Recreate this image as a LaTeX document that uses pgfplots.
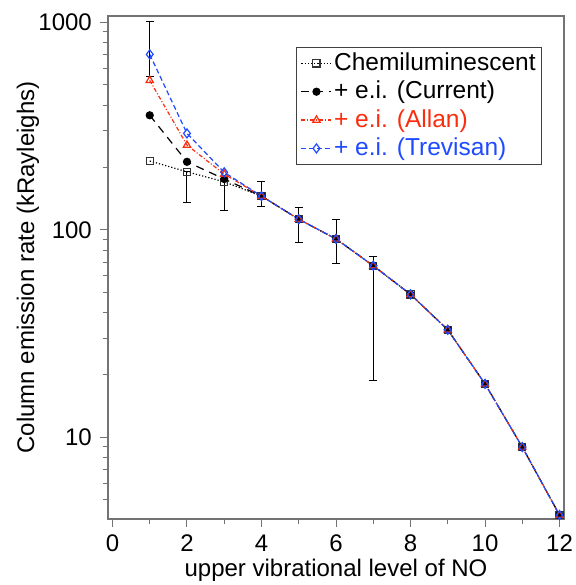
\documentclass[border=0pt]{standalone}
\usepackage{pgfplots}
\pgfplotsset{compat=1.18}
\usepackage{fontspec}
\setmainfont{Liberation Sans}
\definecolor{eired}{RGB}{250,45,15}
\definecolor{eiblue}{RGB}{30,75,255}
\definecolor{framegray}{RGB}{115,115,115}

% x  chemi  current  allan  trevisan
\pgfplotstableread{
x   chemi   cur    allan  trev
1   215     357    526    702
2   190.7   213    256.5  292
3   170.6   176    185.8  189.5
4   145.6   145.6  145.6  145.6
5   112.6   112.6  112.6  112.6
6   90.5    90.5   90.5   90.5
7   67.2    67.2   67.2   67.2
8   48.9    48.9   48.9   48.9
9   33.0    33.0   33.0   33.0
10  18.1    18.1   18.1   18.1
11  8.98    8.98   8.98   8.98
12  4.22    4.22   4.22   4.22
}\emission

% error bars: centre, plus, minus
\pgfplotstableread{
x  y      ep     em
1  702    305    152
2  190.7  0      55.7
3  170.6  0      46.8
4  145.6  25     16
5  112.6  15.9   25.7
6  90.5   22.1   21.3
7  67.2   7.3    48.4
}\errs

\begin{document}
\fontsize{24}{28}\selectfont
\begin{tikzpicture}
\begin{axis}[
  width=456pt, height=503pt, scale only axis,
  ymode=log,
  xmin=-0.12, xmax=12.12,
  ymin=4.04, ymax=1075,
  xtick={0,2,...,12}, minor xtick={1,3,...,11},
  log ticks with fixed point,
  /pgf/number format/1000 sep={},
  /pgf/number format/assume math mode=true,
  tick align=outside,
  xtick pos=bottom, ytick pos=left,
  major tick length=8pt, minor tick length=5pt,
  axis line style={framegray, line width=1.2pt},
  every tick/.style={framegray, line width=1pt},
  tick label style={font=\fontsize{24}{28}\selectfont},
  label style={font=\fontsize{24}{28}\selectfont},
  xlabel={upper vibrational level of NO},
  ylabel={Column emission rate (kRayleighs)},
  xlabel style={at={(axis description cs:0.5,0)}, anchor=north, yshift=-32pt},
  ylabel style={at={(axis description cs:0,0.5)}, anchor=center, yshift=80pt},
  every axis plot/.append style={line width=1.2pt},
  legend style={
    at={(0.952,0.938)}, anchor=north east,
    draw=black!75, line width=1pt, fill=white,
    font=\fontsize{24.5}{26}\selectfont,
    legend cell align=left, row sep=3pt, inner xsep=4pt, inner ysep=3pt,
  },
  legend image code/.code={
    \draw[mark repeat=2,mark phase=2] plot coordinates {(0pt,0pt)(15pt,0pt)(30pt,0pt)};
  },
]
\addplot[black, dotted, mark=square, mark size=3.6pt,
  mark options={solid, draw=black!80}]
  table[x=x, y=chemi] {\emission};
\addlegendentry{Chemiluminescent}
\addplot[black, dash pattern=on 8pt off 6pt, mark=*, mark size=3.5pt,
  mark options={solid}]
  table[x=x, y=cur] {\emission};
\addlegendentry{+ e.i. (Current)}
\addplot[eired, dash pattern=on 4pt off 2pt on 1pt off 2pt, mark=triangle, mark size=4.2pt,
  mark options={solid}]
  table[x=x, y=allan] {\emission};
\addlegendentry[text=eired]{+ e.i. (Allan)}
\addplot[eiblue, dash pattern=on 5pt off 3pt, mark=diamond, mark size=4.5pt,
  mark options={solid}]
  table[x=x, y=trev] {\emission};
\addlegendentry[text=eiblue]{+ e.i. (Trevisan)}
\addplot[black, line width=1pt, draw=none, mark=none, forget plot,
  error bars/.cd, y dir=both, y explicit,
  error bar style={black, line width=1pt, solid},
  error mark options={rotate=90, mark size=4pt, black, line width=1pt}]
  table[x=x, y=y, y error plus=ep, y error minus=em] {\errs};
\end{axis}
\pgfresetboundingbox
\path (current axis.south west)+(-108pt,-66pt) rectangle ([shift={(11pt,16pt)}]current axis.north east);
\end{tikzpicture}
\end{document}
